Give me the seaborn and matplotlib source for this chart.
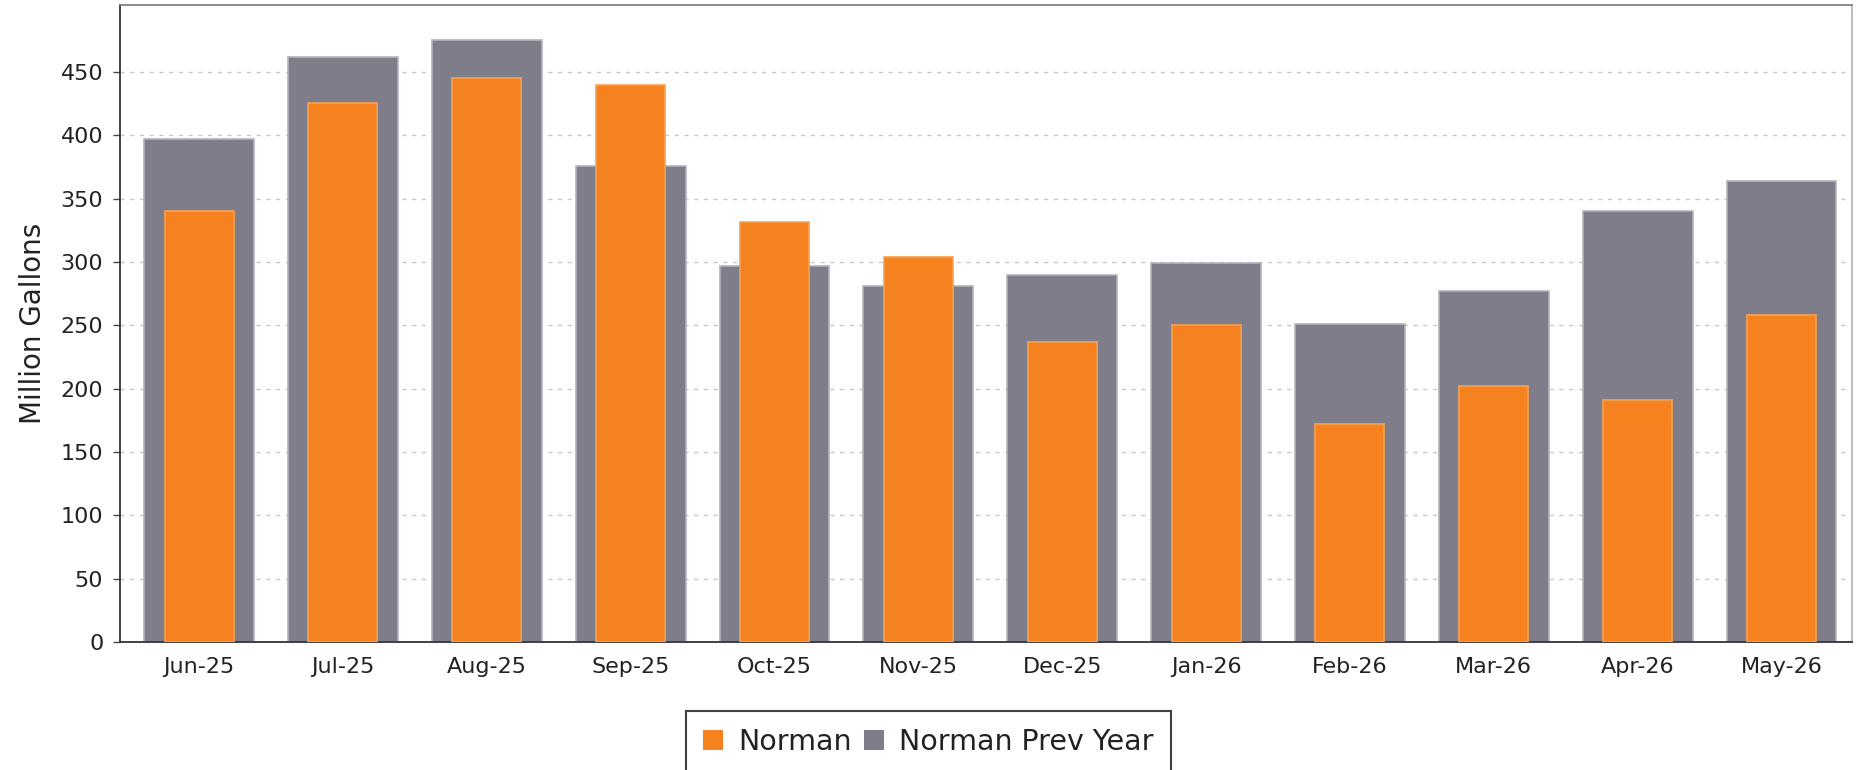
import seaborn as sns
import pandas as pd
import matplotlib
matplotlib.use("Agg")
from matplotlib import pyplot as plt
from matplotlib.patches import Patch

months = ['Jun-25', 'Jul-25', 'Aug-25', 'Sep-25', 'Oct-25', 'Nov-25',
          'Dec-25', 'Jan-26', 'Feb-26', 'Mar-26', 'Apr-26', 'May-26']
norman = [340, 426, 445, 440, 332, 304, 237, 250, 172, 202, 191, 258]
norman_prev = [397, 462, 475, 376, 297, 281, 290, 299, 251, 277, 340, 364]

orange = '#f5821f'
grey = '#7f7d89'

sns.set_style('white')
plt.rcParams['font.family'] = ['DejaVu Sans']

df = pd.DataFrame({'month': months, 'Norman': norman, 'Norman Prev Year': norman_prev})

fig = plt.figure(figsize=(18.6, 7.7), dpi=100)
ax = fig.add_axes([0.0645, 0.1662, 0.9312, 0.8273])

ax.yaxis.grid(True, color='#c9c9c9', linestyle=(0, (3, 4)), linewidth=1.0)
ax.set_axisbelow(True)

sns.barplot(data=df, x='month', y='Norman Prev Year', color=grey, width=0.764,
            saturation=1, edgecolor='#b4b3bc', linewidth=1.2, ax=ax, zorder=2)
sns.barplot(data=df, x='month', y='Norman', color=orange, width=0.48,
            saturation=1, edgecolor='#f7a14f', linewidth=1.2, ax=ax, zorder=3)

ax.set_xlim(-0.55, 11.49)
ax.set_ylim(0, 503)
ax.set_yticks(range(0, 451, 50))
ax.set_xlabel('')
ax.set_ylabel('Million Gallons', fontsize=20, color='#222222')
ax.yaxis.set_label_coords(-0.042, 0.5)

ax.tick_params(axis='y', length=5, width=1, color='#444444', pad=7,
               labelsize=16, labelcolor='#222222', left=True)
ax.tick_params(axis='x', length=0, pad=11, labelsize=16, labelcolor='#222222')

for side in ['left', 'bottom']:
    ax.spines[side].set_color('#333333')
    ax.spines[side].set_linewidth(1.3)
ax.spines['top'].set_color('#777777')
ax.spines['top'].set_linewidth(1.2)
ax.spines['right'].set_color('#b0aebb')
ax.spines['right'].set_linewidth(1.2)

handles = [Patch(facecolor=orange, edgecolor='none', label='Norman'),
           Patch(facecolor=grey, edgecolor='none', label='Norman Prev Year')]
leg = fig.legend(handles=handles, loc='upper center', bbox_to_anchor=(0.4992, 0.0766),
                 ncol=2, fontsize=20.5, frameon=True, fancybox=False,
                 handlelength=0.7, handleheight=0.7, handletextpad=0.52,
                 columnspacing=0.45, borderpad=0.6, borderaxespad=0)
leg.get_frame().set_edgecolor('#111111')
leg.get_frame().set_linewidth(1.5)
for t in leg.get_texts():
    t.set_color('#222222')

fig.savefig('out.png', dpi=100)
